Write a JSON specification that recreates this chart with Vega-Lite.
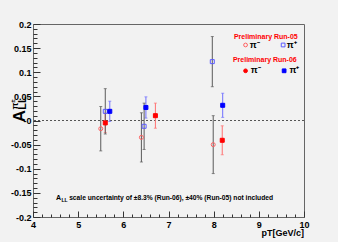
{
  "$schema": "https://vega.github.io/schema/vega-lite/v6.json",
  "width": 271,
  "height": 193,
  "autosize": "none",
  "padding": {"left": 33, "top": 24, "right": 34, "bottom": 25},
  "background": "#f2f2f2",
  "config": {
    "view": {"stroke": "#666666", "strokeWidth": 1},
    "font": "Liberation Sans",
    "text": {"font": "Liberation Sans", "fontWeight": "bold"}
  },
  "resolve": {"axis": {"x": "independent", "y": "independent"}},
  "datasets": {
    "pts": [
      {"series": "pim05", "pT": 5.50, "A": -0.017, "err": 0.046},
      {"series": "pim05", "pT": 6.40, "A": -0.035, "err": 0.051},
      {"series": "pim05", "pT": 7.99, "A": -0.050, "err": 0.060},
      {"series": "pip05", "pT": 5.60, "A": 0.019, "err": 0.047},
      {"series": "pip05", "pT": 6.46, "A": -0.012, "err": 0.048},
      {"series": "pip05", "pT": 7.97, "A": 0.122, "err": 0.052},
      {"series": "pim06", "pT": 5.60, "A": -0.005, "err": 0.020},
      {"series": "pim06", "pT": 6.71, "A": 0.010, "err": 0.026},
      {"series": "pim06", "pT": 8.19, "A": -0.041, "err": 0.030},
      {"series": "pip06", "pT": 5.70, "A": 0.019, "err": 0.021},
      {"series": "pip06", "pT": 6.50, "A": 0.027, "err": 0.022},
      {"series": "pip06", "pT": 8.20, "A": 0.0315, "err": 0.025}
    ],
    "legpts": [
      {"series": "pim05", "pT": 8.706, "A": 0.1565},
      {"series": "pip05", "pT": 9.538, "A": 0.1565},
      {"series": "pim06", "pT": 8.706, "A": 0.103},
      {"series": "pip06", "pT": 9.56, "A": 0.103}
    ],
    "legtitles": [
      {"t": "Preliminary Run-05", "pT": 9.155, "A": 0.168},
      {"t": "Preliminary Run-06", "pT": 9.133, "A": 0.121}
    ],
    "pilabels": [
      {"t": "π⁻", "pT": 8.80, "A": 0.150},
      {"t": "π⁺", "pT": 9.62, "A": 0.150},
      {"t": "π⁻", "pT": 8.82, "A": 0.098},
      {"t": "π⁺", "pT": 9.68, "A": 0.098}
    ]
  },
  "layer": [
    {
      "data": {"values": [{"level": 0}]},
      "mark": {"type": "rule", "strokeDash": [2, 2], "color": "#555555", "strokeWidth": 1},
      "encoding": {
        "y": {"field": "level", "type": "quantitative", "axis": null}
      }
    },
    {
      "data": {"name": "pts"},
      "transform": [{"filter": "datum.series == 'pim06'"}],
      "mark": {"type": "errorbar", "ticks": {"size": 3}, "thickness": 1, "color": "#ff6f6f"},
      "encoding": {
        "x": {"field": "pT", "type": "quantitative", "axis": null},
        "y": {"field": "A", "type": "quantitative", "axis": null},
        "yError": {"field": "err"}
      }
    },
    {
      "data": {"name": "pts"},
      "transform": [{"filter": "datum.series == 'pip06'"}],
      "mark": {"type": "errorbar", "ticks": {"size": 3}, "thickness": 1, "color": "#6f6fff"},
      "encoding": {
        "x": {"field": "pT", "type": "quantitative", "axis": null},
        "y": {"field": "A", "type": "quantitative", "axis": null},
        "yError": {"field": "err"}
      }
    },
    {
      "data": {"name": "pts"},
      "transform": [{"filter": "datum.series == 'pim05' || datum.series == 'pip05'"}],
      "mark": {"type": "errorbar", "ticks": {"size": 3}, "thickness": 1, "color": "#5a5a5a"},
      "encoding": {
        "x": {"field": "pT", "type": "quantitative", "axis": null},
        "y": {"field": "A", "type": "quantitative", "axis": null},
        "yError": {"field": "err"}
      }
    },
    {
      "data": {"name": "pts"},
      "mark": {"type": "point", "size": 16, "strokeWidth": 1, "opacity": 1},
      "encoding": {
        "x": {"field": "pT", "type": "quantitative", "scale": {"domain": [4, 10], "nice": false, "zero": false},
          "axis": {
            "orient": "bottom",
            "values": [4, 5, 6, 7, 8, 9, 10],
            "tickSize": -6, "tickWidth": 1,
            "labelExpr": "format(datum.value, 'd')",
            "domain": false, "grid": false, "labelOverlap": false, "labelFlush": false,
            "labelPadding": 9, "labelFont": "Liberation Sans", "labelFontWeight": "bold", "labelFontSize": 9,
            "labelColor": "#000000", "tickColor": "#333333", "title": null
          }
        },
        "y": {"field": "A", "type": "quantitative", "scale": {"domain": [-0.2, 0.2], "nice": false, "zero": false},
          "axis": {
            "orient": "left",
            "values": [-0.2, -0.15, -0.1, -0.05, 0, 0.05, 0.1, 0.15, 0.2],
            "tickSize": -7, "tickWidth": 1,
            "labelExpr": "abs(datum.value) < 0.000001 ? '-0' : ((datum.value < 0 ? '-' : '') + format(abs(datum.value), '.2~f'))",
            "domain": false, "grid": false, "labelOverlap": false, "labelFlush": false,
            "labelPadding": 9, "labelFont": "Liberation Sans", "labelFontWeight": "bold", "labelFontSize": 9,
            "labelColor": "#000000", "tickColor": "#333333", "title": null
          }
        },
        "shape": {"field": "series", "type": "nominal", "legend": null, "scale": {"domain": ["pim05", "pip05", "pim06", "pip06"], "range": ["circle", "square", "square", "square"]}},
        "stroke": {"field": "series", "type": "nominal", "legend": null, "scale": {"domain": ["pim05", "pip05", "pim06", "pip06"], "range": ["#ff6060", "#5a5aff", "#ff0000", "#0000ff"]}},
        "fill": {"field": "series", "type": "nominal", "legend": null, "scale": {"domain": ["pim05", "pip05", "pim06", "pip06"], "range": ["transparent", "transparent", "#ff0000", "#0000ff"]}}
      }
    },
    {
      "data": {"name": "legpts"},
      "mark": {"type": "point", "size": 14, "strokeWidth": 1, "opacity": 1},
      "encoding": {
        "x": {"field": "pT", "type": "quantitative",
          "axis": {
            "orient": "bottom",
            "values": [4.2,4.4,4.6,4.8,5.2,5.4,5.6,5.8,6.2,6.4,6.6,6.8,7.2,7.4,7.6,7.8,8.2,8.4,8.6,8.8,9.2,9.4,9.6,9.8],
            "tickSize": -3, "tickWidth": 1, "labels": false,
            "domain": false, "grid": false, "tickColor": "#333333", "title": null
          }
        },
        "y": {"field": "A", "type": "quantitative",
          "axis": {
            "orient": "left",
            "values": [-0.19,-0.18,-0.17,-0.16,-0.14,-0.13,-0.12,-0.11,-0.09,-0.08,-0.07,-0.06,-0.04,-0.03,-0.02,-0.01,0.01,0.02,0.03,0.04,0.06,0.07,0.08,0.09,0.11,0.12,0.13,0.14,0.16,0.17,0.18,0.19],
            "tickSize": -4, "tickWidth": 1, "labels": false,
            "domain": false, "grid": false, "tickColor": "#333333", "title": null
          }
        },
        "shape": {"condition": {"test": "datum.series == 'pim06'", "value": "circle"}, "field": "series", "type": "nominal", "legend": null},
        "stroke": {"field": "series", "type": "nominal", "legend": null},
        "fill": {"field": "series", "type": "nominal", "legend": null}
      }
    },
    {
      "data": {"name": "legtitles"},
      "mark": {"type": "text", "fontSize": 7, "fontWeight": "bold", "color": "#ff0000", "align": "center", "baseline": "alphabetic"},
      "encoding": {
        "x": {"field": "pT", "type": "quantitative", "axis": null},
        "y": {"field": "A", "type": "quantitative", "axis": null},
        "text": {"field": "t"}
      }
    },
    {
      "data": {"name": "pilabels"},
      "mark": {"type": "text", "fontSize": 9, "fontWeight": "bold", "color": "#000000", "align": "left", "baseline": "alphabetic"},
      "encoding": {
        "x": {"field": "pT", "type": "quantitative", "axis": null},
        "y": {"field": "A", "type": "quantitative", "axis": null},
        "text": {"field": "t"}
      }
    },
    {
      "data": {"values": [{"t": "A", "pT": 4.509, "A": -0.1648}]},
      "mark": {"type": "text", "fontSize": 7, "fontWeight": "bold", "color": "#000000", "align": "left", "baseline": "alphabetic"},
      "encoding": {"x": {"field": "pT", "type": "quantitative", "axis": null}, "y": {"field": "A", "type": "quantitative", "axis": null}, "text": {"field": "t"}}
    },
    {
      "data": {"values": [{"t": "LL", "pT": 4.63, "A": -0.168}]},
      "mark": {"type": "text", "fontSize": 5, "fontWeight": "bold", "color": "#000000", "align": "left", "baseline": "alphabetic"},
      "encoding": {"x": {"field": "pT", "type": "quantitative", "axis": null}, "y": {"field": "A", "type": "quantitative", "axis": null}, "text": {"field": "t"}}
    },
    {
      "data": {"values": [{"t": "scale uncertainty of ±8.3% (Run-06), ±40% (Run-05) not included", "pT": 4.80, "A": -0.1648}]},
      "mark": {"type": "text", "fontSize": 6.7, "fontWeight": "bold", "color": "#000000", "align": "left", "baseline": "alphabetic"},
      "encoding": {"x": {"field": "pT", "type": "quantitative", "axis": null}, "y": {"field": "A", "type": "quantitative", "axis": null}, "text": {"field": "t"}}
    },
    {
      "data": {"values": [{"t": "pT[GeV/c]", "pT": 10, "A": -0.2394}]},
      "mark": {"type": "text", "fontSize": 9, "fontWeight": "bold", "color": "#000000", "align": "right", "baseline": "alphabetic"},
      "encoding": {"x": {"field": "pT", "type": "quantitative", "axis": null}, "y": {"field": "A", "type": "quantitative", "axis": null}, "text": {"field": "t"}}
    },
    {
      "data": {"values": [{"t": "A", "pT": 3.823, "A": 0.0093}]},
      "mark": {"type": "text", "fontSize": 17, "fontWeight": "bold", "color": "#000000", "align": "center", "baseline": "alphabetic", "angle": 270},
      "encoding": {"x": {"field": "pT", "type": "quantitative", "axis": null}, "y": {"field": "A", "type": "quantitative", "axis": null}, "text": {"field": "t"}}
    },
    {
      "data": {"values": [{"t": "LL", "pT": 3.834, "A": 0.0363}]},
      "mark": {"type": "text", "fontSize": 11, "fontWeight": "bold", "color": "#000000", "align": "center", "baseline": "alphabetic", "angle": 270},
      "encoding": {"x": {"field": "pT", "type": "quantitative", "axis": null}, "y": {"field": "A", "type": "quantitative", "axis": null}, "text": {"field": "t"}}
    },
    {
      "data": {"values": [{"t": "π", "pT": 3.66, "A": 0.030}]},
      "mark": {"type": "text", "fontSize": 9, "fontWeight": "bold", "color": "#000000", "align": "center", "baseline": "alphabetic", "angle": 270},
      "encoding": {"x": {"field": "pT", "type": "quantitative", "axis": null}, "y": {"field": "A", "type": "quantitative", "axis": null}, "text": {"field": "t"}}
    },
    {
      "data": {"values": [{"t": "±", "pT": 3.60, "A": 0.040}]},
      "mark": {"type": "text", "fontSize": 6, "fontWeight": "bold", "color": "#000000", "align": "center", "baseline": "alphabetic", "angle": 270},
      "encoding": {"x": {"field": "pT", "type": "quantitative", "axis": null}, "y": {"field": "A", "type": "quantitative", "axis": null}, "text": {"field": "t"}}
    }
  ]
}
